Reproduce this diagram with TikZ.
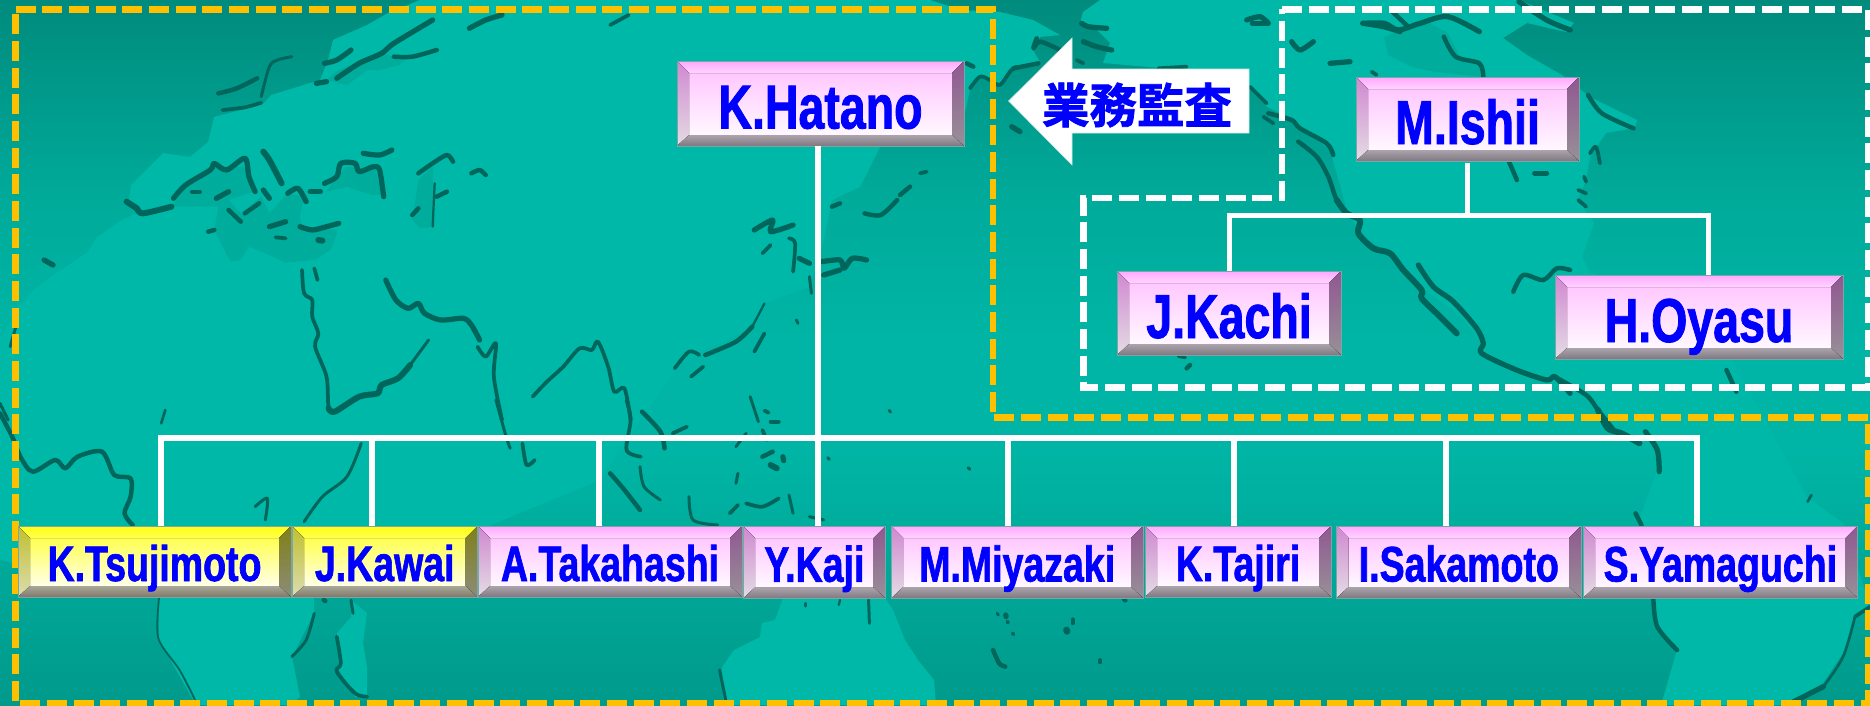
\documentclass[tikz,border=0pt]{standalone}
\usepackage{fontspec}
\setmainfont{Liberation Sans}
\newfontfamily\lblfont[FakeStretch=0.75,FakeBold=1.3]{Liberation Sans Bold}
\newfontfamily\cjkfont[FakeBold=1.6]{Noto Sans CJK JP Bold}
\definecolor{landc}{HTML}{00B8A8}
\definecolor{seac}{HTML}{00AC9C}
\definecolor{coastc}{HTML}{00665C}
\definecolor{dashor}{HTML}{FFC000}
% pink palette
\definecolor{p-t1}{HTML}{FFA8FF}\definecolor{p-t2}{HTML}{FFD4FF}
\definecolor{p-f1}{HTML}{FFC8FF}\definecolor{p-f2}{HTML}{FFF8FF}
\definecolor{p-l1}{HTML}{D088D0}\definecolor{p-l2}{HTML}{E4DCE4}
\definecolor{p-r1}{HTML}{905890}\definecolor{p-r2}{HTML}{989098}
\definecolor{p-b1}{HTML}{ACA4AC}\definecolor{p-b2}{HTML}{807880}
% yellow palette
\definecolor{y-t1}{HTML}{FFFF10}\definecolor{y-t2}{HTML}{FFFF50}
\definecolor{y-f1}{HTML}{FFFF50}\definecolor{y-f2}{HTML}{FFFFE8}
\definecolor{y-l1}{HTML}{C0C030}\definecolor{y-l2}{HTML}{DCDCB0}
\definecolor{y-r1}{HTML}{808018}\definecolor{y-r2}{HTML}{8C8C78}
\definecolor{y-b1}{HTML}{A8A898}\definecolor{y-b2}{HTML}{807868}
\pgfdeclareverticalshading{bgsh}{100bp}{rgb(0bp)=(0,.604,.545); rgb(25bp)=(0,.604,.545); rgb(43.1bp)=(0,.71,.647); rgb(50.9bp)=(0,.71,.647); rgb(60.8bp)=(0,.67,.605); rgb(75bp)=(0,.545,.49); rgb(100bp)=(0,.545,.49)}
\newcommand\bevelfaces[1]{%
  \coordinate (oNW) at (path picture bounding box.north west);
  \coordinate (oNE) at (path picture bounding box.north east);
  \coordinate (oSW) at (path picture bounding box.south west);
  \coordinate (oSE) at (path picture bounding box.south east);
  \coordinate (iNW) at ([xshift=12pt,yshift=-12pt]oNW);
  \coordinate (iNE) at ([xshift=-12pt,yshift=-12pt]oNE);
  \coordinate (iSW) at ([xshift=12pt,yshift=11pt]oSW);
  \coordinate (iSE) at ([xshift=-12pt,yshift=11pt]oSE);
  \fill[top color=#1-f1,bottom color=#1-f2] (iNW) rectangle (iSE);
  \fill[top color=#1-t1,bottom color=#1-t2] (oNW) -- (oNE) -- (iNE) -- (iNW) -- cycle;
  \fill[top color=#1-l1,bottom color=#1-l2] (oNW) -- (iNW) -- (iSW) -- (oSW) -- cycle;
  \fill[top color=#1-r1,bottom color=#1-r2] (oNE) -- (iNE) -- (iSE) -- (oSE) -- cycle;
  \fill[top color=#1-b1,bottom color=#1-b2] (oSW) -- (iSW) -- (iSE) -- (oSE) -- cycle;
}
\newcommand\btnbox[7]{% style, name, x1,y1,x2,y2, palette + text via next
  \node[#1,path picture={\bevelfaces{#7}},minimum width={(#5-#3)*1pt},minimum height={(#6-#4)*1pt}] (#2) at ({(#3+#5)/2},{(#4+#6)/2})}
\newcommand\coastline[2][2.5]{\draw[coast,line width=#1*1.5pt] plot[smooth] coordinates {#2};}
\tikzset{
  btnbase/.style={rectangle,inner sep=0pt,draw=teal!50!gray!70,line width=.8pt,text=blue,align=center,text depth=0pt},
  btnbig/.style={btnbase,font=\lblfont\fontsize{62}{62}\selectfont,text height=50pt},
  btnsmall/.style={btnbase,font=\lblfont\fontsize{50}{50}\selectfont,text height=39pt},
  link/.style={draw=white,line width=6pt,line cap=butt,line join=miter},
  orgline/.style={draw=dashor,line width=6.8pt,dash pattern=on 20pt off 6.67pt,line join=miter},
  whline/.style={draw=white,line width=6.4pt,dash pattern=on 20pt off 6.67pt,line join=miter},
  coast/.style={draw=coastc,line join=round,line cap=round},
  zA/.style={x=0.40816pt,y=-0.33333pt},
}
\begin{document}
\begin{tikzpicture}[x=1pt,y=-1pt]
\useasboundingbox (0,0) rectangle (1870,705);
\shade[shading=bgsh] (0,0) rectangle (1870,705);
% ---------- land
\fill[landc] (0,340) -- (18,307) -- (37,287) -- (61,270) -- (88,252) -- (96,238) -- (122,220) -- (137,213) -- (129,200) -- (131,185) -- (153,163) -- (163,153) -- (190,157) -- (208,142) -- (214,117) -- (229,113) -- (263,104) -- (271,95) -- (294,88) -- (320,80) -- (328,60) -- (333,40) -- (367,25) -- (388,13) -- (420,0) -- (930,0) -- (960,10) -- (1000,12) -- (1033,20) -- (1060,35) -- (1040,37) -- (1033,50) -- (1040,62) -- (1010,68) -- (1000,83) -- (980,77) -- (970,90) -- (964,117) -- (880,147) -- (860,187) -- (832,200) -- (820,257) -- (809,287) -- (766,303) -- (746,330) -- (701,353) -- (677,367) -- (600,480) -- (314,598) -- (314,613) -- (292,657) -- (300,697) -- (290,705) -- (196,705) -- (159,640) -- (159,597) -- (0,560) -- cycle;
\fill[landc] (351,600) -- (367,613) -- (363,643) -- (367,667) -- (367,697) -- (355,697) -- (339,670) -- (337,633) -- (351,617) -- cycle;
\fill[landc] (783,598) -- (775,620) -- (762,623) -- (760,637) -- (734,650) -- (722,667) -- (724,705) -- (936,705) -- (934,680) -- (918,660) -- (905,640) -- (893,610) -- (885,598) -- cycle;
\fill[landc] (1100,0) -- (1083,12) -- (1080,23) -- (1097,30) -- (1110,43) -- (1103,63) -- (1160,68) -- (1250,85) -- (1267,107) -- (1293,120) -- (1330,150) -- (1347,210) -- (1360,233) -- (1390,255) -- (1420,287) -- (1457,313) -- (1482,343) -- (1483,353) -- (1517,370) -- (1550,380) -- (1586,393) -- (1606,423) -- (1637,443) -- (1653,433) -- (1657,470) -- (1639,520) -- (1653,598) -- (1657,627) -- (1677,650) -- (1661,705) -- (1790,705) -- (1823,683) -- (1847,647) -- (1855,617) -- (1870,605) -- (1843,523) -- (1807,497) -- (1700,300) -- (1590,273) -- (1582,257) -- (1594,223) -- (1578,200) -- (1586,180) -- (1590,157) -- (1606,133) -- (1635,128) -- (1637,120) -- (1590,97) -- (1562,75) -- (1527,55) -- (1503,38) -- (1527,23) -- (1566,32) -- (1574,23) -- (1519,0) -- cycle;
% Hudson bay
\fill[seac] (1384,37) -- (1388,55) -- (1412,67) -- (1436,72) -- (1483,77) -- (1483,67) -- (1460,57) -- (1448,33) -- (1424,20) -- (1400,30) -- cycle;
% ---------- seas and coast strokes traced in zoom coordinates
\begin{scope}[zA]
\fill[seac] (420,620) -- (535,620) -- (525,690) -- (545,740) -- (565,785) -- (590,780) -- (610,740) -- (650,760) -- (700,788) -- (770,780) -- (810,750) -- (828,690) -- (740,680) -- (735,650) -- (745,590) -- (705,580) -- (660,640) -- (640,590) -- (590,640) -- (560,600) -- (620,575) -- (605,500) -- (530,500) -- (450,570) -- cycle;
\fill[seac] (825,530) -- (850,500) -- (920,510) -- (938,585) -- (910,585) -- (850,560) -- (800,575) -- cycle;
\fill[seac] (1025,540) -- (1060,500) -- (1065,680) -- (1030,685) -- (1010,660) -- cycle;
\fill[seac] (800,240) -- (830,210) -- (935,160) -- (965,170) -- (1000,170) -- (980,195) -- (930,210) -- (900,210) -- (850,255) -- cycle;
\coastline[3]{(535,280)(580,265)(630,235)}
\coastline[2]{(640,290)(660,200)(680,180)(715,170)}
\coastline[2.5]{(545,330)(600,322)(640,308)}
\coastline[3.5]{(795,190)(825,180)(860,150)}
\coastline[3.5]{(775,250)(800,245)}
\coastline[3.5]{(825,235)(880,190)(935,160)(965,130)(1060,60)}
\coastline[3]{(965,170)(1010,170)(1070,150)}
\coastline[3.5]{(1150,85)(1190,60)(1230,45)}
\coastline[2.5]{(1495,75)(1540,45)}
\coastline[4]{(310,605)(335,625)(350,640)(420,620)}
\coastline[3.5]{(425,595)(455,555)(515,510)(525,490)(555,510)(600,475)(610,530)(625,575)}
\coastline[4]{(645,455)(660,480)(690,550)}
\coastline[3.5]{(645,570)(660,595)}
\coastline[3.5]{(795,550)(825,530)(835,490)(870,490)(880,515)(915,500)(930,510)(940,590)}
\coastline[3.5]{(890,460)(930,465)(960,450)}
\coastline[3]{(1025,520)(1060,490)(1095,465)(1110,485)}
\coastline[1.5]{(1065,550)(1060,680)}
\coastline[3]{(1010,645)(1025,625)}
\coastline[3]{(1070,590)(1095,575)}
\coastline[3]{(1155,520)(1175,510)(1190,525)}
\coastline[3.5]{(705,580)(730,565)(750,605)}
\coastline[3.5]{(760,575)(785,575)}
\coastline[3.5]{(735,680)(765,690)(800,680)(830,670)}
\coastline[3.5]{(660,680)(700,665)}
\coastline[2.5]{(675,712)(700,715)}
\coastline[4]{(780,720)(790,722)}
\coastline[3]{(510,695)(525,690)}
\coastline[3.5]{(530,595)(560,575)}
\coastline[2.5]{(470,575)(490,575)}
\coastline[3]{(560,630)(590,665)}
\coastline[3]{(600,640)(635,610)}
\coastline[2.5]{(740,810)(745,880)(765,900)(765,950)(780,1000)(772,1040)(800,1130)(805,1220)(820,1235)}
\coastline[4]{(805,1225)(820,1235)(880,1190)(925,1180)(935,1155)(975,1135)(1005,1095)}
\coastline[2]{(1005,1095)(1020,1070)(1050,1020)}
\coastline[2.5]{(770,805)(778,840)}
\coastline[3.5]{(945,840)(970,900)(1000,925)(1025,910)(1040,940)(1080,960)(1135,955)(1155,975)(1175,1020)}
\coastline[2.5]{(1170,1040)(1190,1070)(1215,1030)(1210,1130)(1230,1260)}
\coastline[2.5]{(1305,1190)(1340,1145)(1380,1100)(1420,1045)(1450,1050)(1465,1025)(1490,1100)(1505,1175)(1530,1165)(1545,1260)}
\coastline[3.5]{(108,780)(130,795)}
\coastline[2]{(0,1210)(20,1260)}
\coastline[2]{(25,1040)(40,975)}
\end{scope}
% zoom 2 (y offset 400)
\begin{scope}[shift={(0,400)},zA]
\coastline[3]{(0,40)(30,110)(50,170)(80,215)(135,180)(160,205)(190,170)(250,155)(280,225)(320,235)(320,290)(305,340)(325,375)}
\coastline[1.8]{(405,30)(395,70)}
\coastline[2]{(625,320)(655,295)(650,360)}
\coastline[2]{(885,130)(850,230)(790,290)(745,365)}
\coastline[2]{(1215,0)(1240,110)(1250,145)}
\coastline[2.5]{(1280,130)(1290,195)(1310,180)}
\coastline[2.5]{(1535,0)(1545,60)(1535,150)(1570,170)}
\coastline[3]{(1495,220)(1530,270)(1568,330)}
\coastline[1.2]{(390,590)(388,715)(440,810)(480,905)}
\coastline[2]{(860,600)(865,640)}
\coastline[2]{(715,770)(750,720)(770,640)}
\coastline[3]{(793,600)(797,603)}
\coastline[2.5]{(825,710)(835,790)(825,815)(870,880)(900,890)}
\end{scope}
% zoom 5 (offset 640,200)
\begin{scope}[shift={(640,200)},zA]
\coastline[3.5]{(280,90)(325,60)(320,95)(375,75)}
\coastline[2.5]{(300,160)(320,135)}
\coastline[2.5]{(365,115)(380,130)(375,215)}
\coastline[3.5]{(390,175)(415,190)}
\coastline[2]{(415,230)(420,280)}
\coastline[3.5]{(445,185)(490,180)(500,205)(520,175)(555,180)}
\coastline[3.5]{(450,225)(490,210)}
\coastline[2.5]{(85,505)(120,455)(145,465)}
\coastline[3]{(160,465)(235,425)(275,380)}
\coastline[1.5]{(275,380)(305,310)}
\coastline[2.5]{(125,530)(155,500)}
\coastline[2.5]{(280,455)(305,400)}
\coastline[2]{(383,360)(387,370)}
\coastline[2]{(270,590)(290,665)}
\coastline[2.5]{(305,632)(315,638)}
\coastline[2.5]{(320,665)(340,665)}
\coastline[2.5]{(300,690)(310,720)}
\coastline[3]{(300,770)(325,755)}
\coastline[4]{(320,795)(335,805)}
\coastline[3.5]{(350,770)(352,782)}
\coastline[3]{(5,635)(50,695)(60,745)}
\coastline[2.5]{(80,700)(115,680)}
\coastline[2]{(235,740)(260,700)}
\coastline[2]{(0,800)(10,860)(50,900)}
\coastline[2]{(240,820)(235,850)}
\coastline[2]{(120,890)(130,960)(190,975)}
\coastline[2.5]{(220,940)(240,915)}
\coastline[2.5]{(260,910)(300,920)(340,895)}
\coastline[2]{(365,885)(375,940)}
\coastline[2]{(415,950)(450,960)}
\coastline[2]{(460,773)(464,778)}
\coastline[2]{(804,803)(808,808)}
\coastline[2]{(610,631)(614,636)}
\coastline[3]{(470,20)(490,10)}
\coastline[3]{(550,40)(590,45)(630,0)}
\end{scope}
% zoom 8 (offset 900,0 at 3x)
\begin{scope}[shift={(900,0)},x=.33333pt,y=-.33333pt]
\coastline[3.5]{(1040,60)(1080,50)(1105,70)}
\coastline[3.5]{(545,70)(565,80)(620,85)}
\coastline[3.5]{(550,125)(590,140)(635,150)}
\coastline[3]{(410,115)(400,145)(420,125)(470,145)(500,160)}
\coastline[3]{(340,205)(415,190)}
\coastline[3]{(200,190)(220,200)}
\coastline[2.5]{(210,265)(240,230)(270,240)(300,255)(330,215)(350,200)}
\coastline[3.5]{(335,380)(360,395)}
\coastline[2.5]{(530,180)(550,190)}
\coastline[3]{(0,585)(30,560)}
\coastline[2.5]{(60,520)(80,515)}
\coastline[3.5]{(1175,125)(1200,150)(1240,125)}
\coastline[3.5]{(1290,190)(1350,185)}
\coastline[2.5]{(1415,215)(1430,225)}
\coastline[3.5]{(1390,70)(1450,80)(1500,95)}
\coastline[3]{(1105,340)(1175,360)(1200,385)(1280,430)(1300,465)}
\coastline[3]{(1195,425)(1250,470)(1285,530)(1310,600)(1340,640)}
\coastline[2.5]{(1090,350)(1120,370)}
\coastline[2.5]{(1050,260)(1100,310)}
\coastline[2.5]{(775,205)(860,200)}
\end{scope}
% North America (x 2.529, offset 1250)
\begin{scope}[shift={(1250,0)},x=.3954pt,y=-.33333pt]
\coastline[3]{(5,70)(45,70)}
\coastline[3.5]{(285,70)(340,70)(375,90)(430,70)(500,50)(580,95)}
\coastline[3]{(360,35)(400,80)}
\coastline[3.5]{(680,5)(750,60)(810,90)}
\coastline[3]{(490,110)(520,170)(580,190)(590,230)}
\coastline[3]{(855,285)(890,340)(970,385)}
\coastline[2.5]{(860,460)(875,440)(885,490)}
\coastline[3]{(655,485)(675,540)}
\coastline[3.5]{(720,520)(750,520)}
\coastline[2.5]{(845,530)(850,545)}
\coastline[2.5]{(830,570)(850,580)}
\coastline[2.5]{(830,600)(850,620)}
\coastline[3]{(770,1130)(850,1185)(880,1230)(920,1290)}
\coastline[3]{(1205,1110)(1230,1175)}
\end{scope}
% zoom 10 (offset 1050,200 at 3x)
\begin{scope}[shift={(1050,200)},x=.33333pt,y=-.33333pt]
\coastline[4]{(860,0)(890,40)(930,60)(925,100)(970,145)(1020,160)(1060,210)(1115,270)(1115,295)(1165,345)(1220,400)}
\coastline[3.5]{(1105,195)(1150,260)(1210,305)(1280,385)(1300,430)(1295,460)(1400,510)(1490,540)(1515,530)(1560,580)}
\coastline[3]{(1390,275)(1420,225)(1480,240)(1520,205)(1560,210)}
\coastline[2.5]{(385,468)(405,472)}
\coastline[3]{(410,505)(420,495)}
\end{scope}
% zoom 7 (x 2.529, offset 1250,400)
\begin{scope}[shift={(1250,400)},x=.3954pt,y=-.33333pt]
\coastline[4]{(880,30)(905,85)(940,100)(985,130)}
\coastline[3.5]{(1000,95)(1030,150)(1035,215)}
\coastline[1.8]{(1410,305)(1420,285)}
\coastline[3]{(975,340)(990,375)}
\coastline[3]{(1020,595)(1030,680)(1080,750)}
\coastline[3.5]{(1375,905)(1450,860)}
\coastline[1.8]{(1450,860)(1500,770)(1530,650)}
\coastline[2.5]{(1530,650)(1568,620)}
\end{scope}
% zoom 6 (offset 640,500)
\begin{scope}[shift={(640,500)},zA]
\coastline[2]{(875,340)(878,345)}
\coastline[3.5]{(896,345)(897,350)}
\coastline[2.5]{(900,365)(902,368)}
\coastline[2.5]{(913,400)(915,403)}
\coastline[4.5]{(1045,390)(1046,394)}
\coastline[2.5]{(1060,358)(1060,370)}
\coastline[3]{(865,450)(880,490)(895,500)}
\coastline[2.5]{(1127,480)(1127,487)}
\coastline[2]{(405,310)(405,318)}
\coastline[2]{(560,300)(562,370)}
\coastline[1.5]{(490,300)(487,315)}
\coastline[2]{(195,510)(210,600)}
\coastline[3]{(1186,298)(1189,301)}
\end{scope}
% ---------- dashed frames
\draw[orgline] (15.5,9.3) -- (993,9.3) -- (993,417.3) -- (1868,417.3) -- (1868,703) -- (15.5,703) -- cycle;
\draw[whline] (1282,9.3) -- (1868,9.3) -- (1868,387.3) -- (1083.3,387.3) -- (1083.3,198) -- (1282,198) -- cycle;
% ---------- boxes
\btnbox{btnbig}{hatano}{677}{61}{964}{146}{p} {K.Hatano};
\btnbox{btnbig}{ishii}{1356}{77}{1579}{161}{p} {M.Ishii};
\btnbox{btnbig}{kachi}{1117}{271}{1341}{355}{p} {J.Kachi};
\btnbox{btnbig}{oyasu}{1555}{275}{1843}{359}{p} {H.Oyasu};
\btnbox{btnsmall}{tsujimoto}{18}{526}{291}{597}{y} {K.Tsujimoto};
\btnbox{btnsmall}{kawai}{292}{526}{477.5}{597}{y} {J.Kawai};
\btnbox{btnsmall}{takahashi}{478}{526}{742}{597}{p} {A.Takahashi};
\btnbox{btnsmall}{kaji}{743}{526}{885.7}{598.5}{p} {Y.Kaji};
\btnbox{btnsmall}{miyazaki}{891.4}{526}{1143}{598}{p} {M.Miyazaki};
\btnbox{btnsmall}{tajiri}{1145}{526}{1331}{597}{p} {K.Tajiri};
\btnbox{btnsmall}{sakamoto}{1336.6}{526}{1581}{598}{p} {I.Sakamoto};
\btnbox{btnsmall}{yamaguchi}{1583}{526}{1857.7}{598}{p} {S.Yamaguchi};
% ---------- connectors
\coordinate (bus) at (818,438);
\coordinate (busL) at (161,438);
\coordinate (busR) at (1696.6,438);
\coordinate (tee) at (1467.5,215.7);
\coordinate (teeL) at (1229,215.7);
\coordinate (teeR) at (1708.7,215.7);
\draw[link] (hatano.south -| bus) -- (bus |- kaji.north);
\draw[link] (busL |- tsujimoto.north) -- (busL) -- (busR) -- (busR |- yamaguchi.north);
\foreach \dx/\nm in {372/kawai,599/takahashi,1007.8/miyazaki,1234/tajiri,1445.7/sakamoto}
  \draw[link] (\dx,438) -- (\dx,438 |- \nm.north);
\draw[link,line width=5pt] ([yshift=-2pt]ishii.south) -- (tee);
\draw[link,line width=5pt] (teeL |- kachi.north) -- (teeL) -- (teeR) -- (teeR |- oyasu.north);
% ---------- arrow
\draw[draw=white!80!teal,line width=.6pt,fill=white] (1008.6,101) -- (1072,38) -- (1072,69) -- (1249,69) -- (1249,133) -- (1072,133) -- (1072,165) -- cycle;
\node[text=blue,font=\cjkfont\fontsize{47.5}{47.5}\selectfont,inner sep=0pt] (audit) at (1137,105) {業務監査};
\end{tikzpicture}
\end{document}
